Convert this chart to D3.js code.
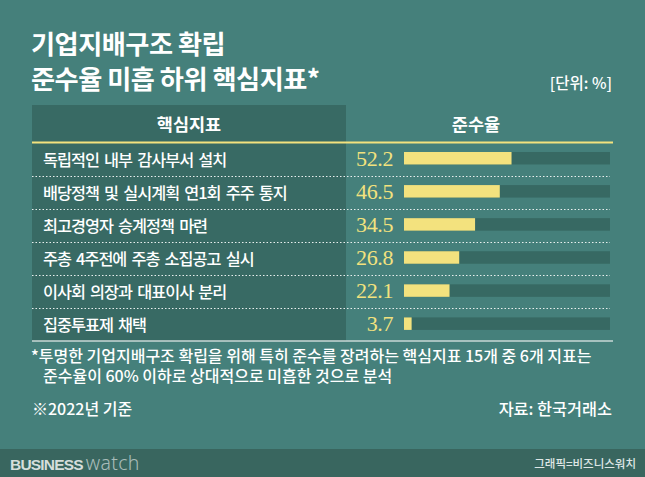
<!DOCTYPE html>
<html>
<head>
<meta charset="utf-8">
<script src="https://cdn.jsdelivr.net/npm/d3@7/dist/d3.min.js"></script>
<style>
  html, body { margin: 0; padding: 0; background: #45807b; }
  svg { display: block; }
  text { font-family: "Noto Sans CJK KR", "Noto Sans", sans-serif; }
</style>
</head>
<body>
<svg id="chart" width="645" height="477"></svg>
<script>
const titleLines = ["기업지배구조 확립", "준수율 미흡 하위 핵심지표*"];
const unitLabel = "[단위: %]";
const headers = ["핵심지표", "준수율"];
const categories = [
  "독립적인 내부 감사부서 설치",
  "배당정책 및 실시계획 연1회 주주 통지",
  "최고경영자 승계정책 마련",
  "주총 4주전에 주총 소집공고 실시",
  "이사회 의장과 대표이사 분리",
  "집중투표제 채택"
];
const values = [52.2, 46.5, 34.5, 26.8, 22.1, 3.7];
const valueLabels = ["52.2", "46.5", "34.5", "26.8", "22.1", "3.7"];
const footnotes = [
  "*투명한 기업지배구조 확립을 위해 특히 준수를 장려하는 핵심지표 15개 중 6개 지표는",
  "준수율이 60% 이하로 상대적으로 미흡한 것으로 분석"
];
const baseNote = "※2022년 기준";
const sourceNote = "자료: 한국거래소";
const credit = "그래픽=비즈니스워치";

const W = 645, H = 477;
const bg = "#45807b", dark = "#386a64", yellow = "#f3e27e";
const svg = d3.select("#chart");

svg.append("rect").attr("width", W).attr("height", H).attr("fill", bg);

// Title
svg.append("g").selectAll("text").data(titleLines).join("text")
  .attr("x", 31).attr("y", (d, i) => 54 + i * 34.5)
  .attr("fill", "#ffffff").attr("font-size", 26.2).attr("font-weight", 700)
  .attr("letter-spacing", -0.5)
  .text(d => d);

svg.append("text").attr("x", 612).attr("y", 89).attr("text-anchor", "end")
  .attr("fill", "#ffffff").attr("font-size", 15.5).attr("font-weight", 500)
  .text(unitLabel);

// Table geometry
const left = 32, right = 612, colSplit = 346;
const headTop = 105, headBottom = 142.5, tableBottom = 341;

const y = d3.scaleBand().domain(categories).range([headBottom, tableBottom]).padding(0);
const x = d3.scaleLinear().domain([0, 100]).range([404, 610]);

// dark left column
svg.append("rect").attr("x", left).attr("y", headTop)
  .attr("width", colSplit - left).attr("height", tableBottom - headTop).attr("fill", dark);

// headers
svg.append("text").attr("x", (left + colSplit) / 2).attr("y", 131).attr("text-anchor", "middle")
  .attr("fill", "#ffffff").attr("font-size", 17.5).attr("font-weight", 600).text(headers[0]);
svg.append("text").attr("x", 476).attr("y", 131).attr("text-anchor", "middle")
  .attr("fill", "#ffffff").attr("font-size", 17.5).attr("font-weight", 600).text(headers[1]);

// yellow header line
svg.append("line").attr("x1", left).attr("x2", right + 1).attr("y1", headBottom).attr("y2", headBottom)
  .attr("stroke", yellow).attr("stroke-width", 2);

// dotted separators
svg.append("g").selectAll("line").data(categories.slice(1)).join("line")
  .attr("x1", left).attr("x2", 610)
  .attr("y1", d => Math.round(y(d)) + 0.5).attr("y2", d => Math.round(y(d)) + 0.5)
  .attr("stroke", "#e8efee").attr("stroke-width", 1).attr("stroke-dasharray", "1.5,2");

// bottom line
svg.append("line").attr("x1", left).attr("x2", right + 1).attr("y1", tableBottom).attr("y2", tableBottom)
  .attr("stroke", "#c9d8d6").attr("stroke-width", 1.5);

const rows = svg.append("g").selectAll("g").data(categories).join("g");
const barH = 12.5;
const barY = d => y(d) + y.bandwidth() / 2 - barH / 2 - 0.8;

// labels
rows.append("text").attr("x", 43).attr("y", d => y(d) + y.bandwidth() / 2 + 6.5)
  .attr("fill", "#ffffff").attr("font-size", 16.3).attr("font-weight", 500)
  .attr("letter-spacing", -1).attr("word-spacing", 2.5)
  .text(d => d);

// tracks
rows.append("rect").attr("x", x(0)).attr("y", barY)
  .attr("width", x(100) - x(0)).attr("height", barH).attr("fill", "#376963");

// bars
rows.append("rect").attr("x", x(0)).attr("y", barY)
  .attr("width", (d, i) => x(values[i]) - x(0)).attr("height", barH).attr("fill", yellow);

// values
rows.append("text").attr("x", 393).attr("y", d => y(d) + y.bandwidth() / 2 + 7)
  .attr("text-anchor", "end").attr("fill", yellow)
  .attr("font-size", 22).attr("letter-spacing", -0.4)
  .style("font-family", "'Liberation Serif', serif")
  .text((d, i) => valueLabels[i]);

// footnotes (one text block, two lines)
const fn = svg.append("text").attr("fill", "#ffffff").attr("font-size", 16).attr("font-weight", 500);
fn.selectAll("tspan").data(footnotes).join("tspan")
  .attr("x", (d, i) => i === 0 ? 31 : 43)
  .attr("y", (d, i) => 361.5 + i * 20)
  .text(d => d);

svg.append("text").attr("x", 32).attr("y", 415).attr("fill", "#ffffff")
  .attr("font-size", 16).attr("font-weight", 500).text(baseNote);
svg.append("text").attr("x", 612).attr("y", 415).attr("text-anchor", "end").attr("fill", "#ffffff")
  .attr("font-size", 16.3).attr("font-weight", 500).text(sourceNote);

// footer band
svg.append("rect").attr("x", 0).attr("y", 449).attr("width", W).attr("height", H - 449).attr("fill", "#39665f");
const brand = svg.append("text").attr("x", 10).attr("y", 470);
brand.append("tspan").attr("font-weight", 900).attr("fill", "#d5dedc").attr("font-size", 15.5)
  .style("font-family", "'Liberation Sans', Arial, sans-serif").attr("letter-spacing", -0.8).text("BUSINESS");
brand.append("tspan").attr("font-weight", 300).attr("fill", "#a9bcb9").attr("font-size", 19.5)
  .attr("letter-spacing", 0.3)
  .style("font-family", "'Noto Sans', sans-serif").attr("dx", 3).text("watch");
svg.append("text").attr("x", 636).attr("y", 468).attr("text-anchor", "end")
  .attr("fill", "#dfe6e5").attr("font-size", 11.5).attr("font-weight", 500).text(credit);
</script>
</body>
</html>
